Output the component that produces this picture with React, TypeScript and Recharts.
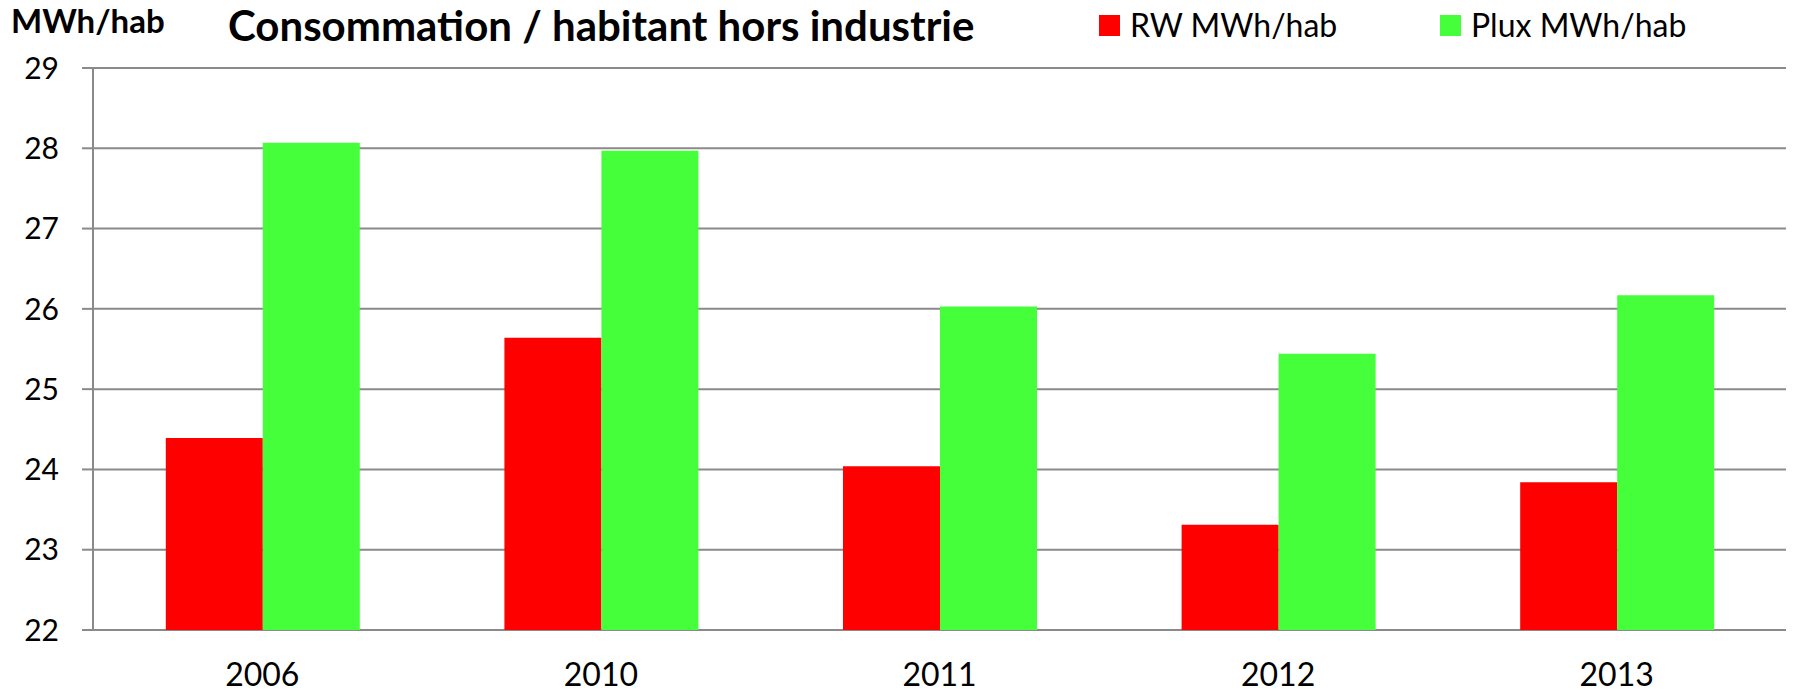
import React from "react";
import { BarChart, Bar, XAxis, YAxis, CartesianGrid } from "recharts";

const categories = ["2006", "2010", "2011", "2012", "2013"];
const rwValues = [24.39, 25.64, 24.04, 23.31, 23.84];
const pluxValues = [28.07, 27.97, 26.03, 25.44, 26.17];
const yTicks = [22, 23, 24, 25, 26, 27, 28, 29];
const boundaryTicks = [0, 1, 2, 3, 4, 5];
const seriesNames = ["RW MWh/hab", "Plux MWh/hab"];
const seriesColors = ["#ff0000", "#44ff3a"];

const data = categories.map((c, i) => ({ year: c, rw: rwValues[i], plux: pluxValues[i] }));

const FONT = "Lato, 'Open Sans', sans-serif";
const legendLeft = [1099, 1440];

export default function App() {
  return (
    <div style={{ position: "absolute", left: 0, top: 0, width: 1795, height: 694, background: "#fff", overflow: "hidden" }}>
      <div style={{ position: "absolute", left: 11, top: 4, lineHeight: 1, whiteSpace: "nowrap", fontFamily: FONT, fontWeight: 700, fontSize: 33, color: "#000" }}>
        MWh/hab
      </div>
      <div style={{ position: "absolute", left: 228, top: 4, lineHeight: 1, whiteSpace: "nowrap", fontFamily: FONT, fontWeight: 700, fontSize: 42, color: "#000" }}>
        Consommation / habitant hors industrie
      </div>
      {seriesNames.map((n, i) => (
        <div key={n} style={{ position: "absolute", left: legendLeft[i], top: 9, display: "flex", alignItems: "center", whiteSpace: "nowrap", fontFamily: FONT, fontSize: 32, lineHeight: 1, color: "#000" }}>
          <div style={{ width: 21, height: 21, background: seriesColors[i], marginRight: 10 }} />
          <span>{n}</span>
        </div>
      ))}
      <div style={{ position: "absolute", left: 0, top: 0 }}>
        <BarChart
          width={1795}
          height={694}
          data={data}
          margin={{ top: 68, right: 9, bottom: 0, left: 0 }}
          barCategoryGap="21.5%"
          barGap={0}
        >
          <CartesianGrid vertical={false} stroke="#8a8a8a" strokeWidth={2} />
          <XAxis
            xAxisId="b"
            type="number"
            domain={[0, 5]}
            ticks={boundaryTicks}
            height={0}
            axisLine={{ stroke: "#8a8a8a", strokeWidth: 2 }}
            tickLine={{ stroke: "#8a8a8a", strokeWidth: 2 }}
            tickSize={12}
            tick={() => <g />}
          />
          <XAxis
            dataKey="year"
            height={64}
            axisLine={false}
            tickLine={false}
            tickSize={0}
            tickMargin={33}
            tick={{ fill: "#000", fontSize: 32, fontFamily: FONT }}
          />
          <YAxis
            width={93}
            domain={[22, 29]}
            ticks={yTicks}
            interval={0}
            axisLine={{ stroke: "#8a8a8a", strokeWidth: 2 }}
            tickLine={{ stroke: "#8a8a8a", strokeWidth: 2 }}
            tickSize={11}
            tickMargin={23}
            tick={{ fill: "#000", fontSize: 30, fontFamily: FONT }}
          />
          <Bar dataKey="rw" name={seriesNames[0]} fill={seriesColors[0]} isAnimationActive={false} />
          <Bar dataKey="plux" name={seriesNames[1]} fill={seriesColors[1]} isAnimationActive={false} />
        </BarChart>
      </div>
    </div>
  );
}
